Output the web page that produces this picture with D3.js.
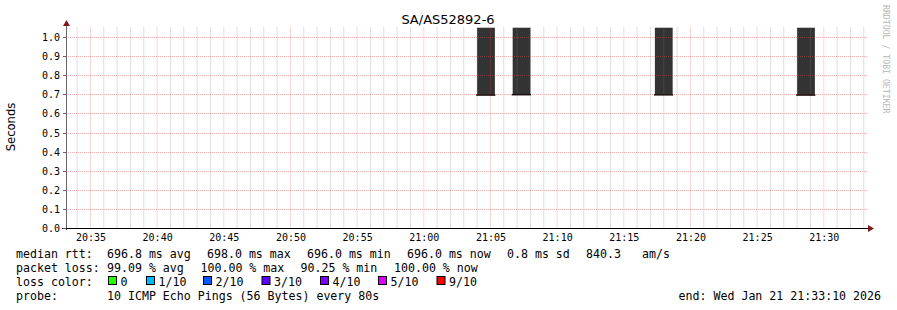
<!DOCTYPE html>
<html>
<head>
<meta charset="utf-8">
<script src="https://cdn.jsdelivr.net/npm/d3@7"></script>
<style>
  html, body { margin: 0; padding: 0; background: #fff; }
  svg { display: block; }
  .mono { font-family: 'DejaVu Sans Mono', monospace; }
  .sans { font-family: 'DejaVu Sans', sans-serif; }
</style>
</head>
<body>
<svg id="chart" width="897" height="310"></svg>
<script>
// samples that came back (every other slot was 10/10 loss)
const STEP = 80
const SAMPLE_TIMES = ['21:04:00', '21:06:40', '21:17:20', '21:28:00']
const MEDIANS = [0.6960, 0.6980, 0.6972, 0.6960]
const SMOKE_TOP = [1.05, 1.05, 1.05, 1.05]

const RANGE_START = '20:33:10'
const RANGE_END = '21:33:10'
const Y_MAX = 1.05

const LOSS_LABELS = ['0', '1/10', '2/10', '3/10', '4/10', '5/10', '9/10']
const LOSS_COLORS = ['#26ff00', '#00b8ff', '#0059ff', '#5e00ff', '#7e00ff', '#dd00ff', '#ff0000']

const RTT_LEGEND = ['median rtt:', '696.8 ms avg', '698.0 ms max', '696.0 ms min', '696.0 ms now', '0.8 ms sd', '840.3', 'am/s']
const LOSS_LEGEND = ['packet loss:', '99.09 % avg', '100.00 % max', '90.25 % min', '100.00 % now']
const PROBE_LEGEND = ['probe:', '10 ICMP Echo Pings (56 Bytes) every 80s']
const END_LABEL = 'end: Wed Jan 21 21:33:10 2026'

const parseTime = d3.timeParse('%Y-%m-%d %H:%M:%S')
const at = s => parseTime('2026-01-21 ' + s)

const svg = d3.select('#chart')
const plot = { left: 66, right: 866, top: 27.45, bottom: 228 }

const x = d3.scaleTime()
  .domain([at(RANGE_START), at(RANGE_END)])
  .range([plot.left, plot.right])
const y = d3.scaleLinear()
  .domain([0, Y_MAX])
  .range([plot.bottom, plot.top])

svg.append('clipPath').attr('id', 'plotclip')
  .append('rect')
  .attr('x', plot.left).attr('y', plot.top)
  .attr('width', plot.right - plot.left + 2).attr('height', plot.bottom - plot.top)

const samples = SAMPLE_TIMES.map((t, i) => ({
  t0: at(t),
  t1: d3.timeSecond.offset(at(t), STEP),
  median: MEDIANS[i],
  top: SMOKE_TOP[i]
}))

// smoke
svg.append('g')
  .attr('clip-path', 'url(#plotclip)')
  .selectAll('rect')
  .data(samples)
  .enter().append('rect')
  .attr('x', d => x(d.t0))
  .attr('y', d => y(d.top))
  .attr('width', d => x(d.t1) - x(d.t0))
  .attr('height', d => y(d.median) - y(d.top))
  .attr('fill', '#333')

// grid (semi transparent, like rrdtool, so it darkens over the smoke)
const grid = svg.append('g').attr('fill', 'none').attr('stroke-width', 1)
const minutes = d3.timeMinute.every(1).range(at(RANGE_START), at(RANGE_END))

grid.selectAll('.minor')
  .data(minutes.filter(m => m.getMinutes() % 5 !== 0))
  .enter().append('line')
  .attr('class', 'minor')
  .attr('x1', d => x(d)).attr('x2', d => x(d))
  .attr('y1', plot.top).attr('y2', plot.bottom)
  .attr('stroke', 'rgba(128,128,128,0.5)')
  .attr('stroke-dasharray', '1,1')

grid.selectAll('.major')
  .data(minutes.filter(m => m.getMinutes() % 5 === 0))
  .enter().append('line')
  .attr('class', 'major')
  .attr('x1', d => x(d)).attr('x2', d => x(d))
  .attr('y1', plot.top).attr('y2', plot.bottom)
  .attr('stroke', 'rgba(232,72,72,0.45)')
  .attr('stroke-dasharray', '1,1')

const yTicks = y.ticks(10)

grid.selectAll('.hmajor')
  .data(yTicks.filter(v => v > 0))
  .enter().append('line')
  .attr('class', 'hmajor')
  .attr('x1', plot.left).attr('x2', plot.right + 2)
  .attr('y1', d => Math.round(y(d)) + 0.5).attr('y2', d => Math.round(y(d)) + 0.5)
  .attr('stroke', 'rgba(232,72,72,0.45)')
  .attr('stroke-dasharray', '1,1')

// median line
svg.append('g')
  .selectAll('line')
  .data(samples)
  .enter().append('line')
  .attr('x1', d => x(d.t0) - 1).attr('x2', d => x(d.t1) + 0.5)
  .attr('y1', d => y(d.median)).attr('y2', d => y(d.median))
  .attr('stroke', '#1a1010')
  .attr('stroke-width', 1.5)

// axes
const axes = svg.append('g')
axes.append('line')
  .attr('x1', plot.left + 0.5).attr('x2', plot.left + 0.5)
  .attr('y1', plot.bottom + 2).attr('y2', 25)
  .attr('stroke', '#666')
axes.append('path')
  .attr('d', `M${plot.left - 3},26 L${plot.left + 4},26 L${plot.left + 0.5},20 Z`)
  .attr('fill', '#7f1a1a')
axes.append('line')
  .attr('x1', plot.left - 4).attr('x2', plot.right + 3)
  .attr('y1', plot.bottom + 0.5).attr('y2', plot.bottom + 0.5)
  .attr('stroke', '#000')
axes.append('path')
  .attr('d', `M${plot.right + 2},${plot.bottom - 3} L${plot.right + 2},${plot.bottom + 4} L${plot.right + 8},${plot.bottom + 0.5} Z`)
  .attr('fill', '#7f1a1a')

axes.selectAll('.ytick')
  .data(yTicks)
  .enter().append('line')
  .attr('x1', plot.left - 3).attr('x2', plot.left)
  .attr('y1', d => Math.round(y(d)) + 0.5).attr('y2', d => Math.round(y(d)) + 0.5)
  .attr('stroke', '#666')

// y labels
svg.append('g')
  .attr('class', 'mono')
  .attr('font-size', 10)
  .attr('text-anchor', 'end')
  .selectAll('text')
  .data(yTicks)
  .enter().append('text')
  .attr('x', 60)
  .attr('y', d => Math.round(y(d)) + 0.5)
  .attr('dy', '0.35em')
  .text(d3.format('.1f'))

// x labels via d3 axis, only the text is kept
const xAxis = svg.append('g')
  .attr('transform', `translate(0,${plot.bottom})`)
  .call(d3.axisBottom(x)
    .ticks(d3.timeMinute.every(5))
    .tickSize(0)
    .tickPadding(0)
    .tickFormat(d3.timeFormat('%H:%M')))
xAxis.select('.domain').remove()
xAxis.selectAll('text')
  .attr('class', 'mono')
  .attr('font-size', 10)
  .attr('fill', '#000')
  .attr('dy', null)
  .attr('y', 13)

// titles
svg.append('text')
  .attr('class', 'sans')
  .attr('x', 448).attr('y', 24)
  .attr('text-anchor', 'middle')
  .attr('font-size', 13)
  .text('SA/AS52892-6')

svg.append('text')
  .attr('class', 'sans')
  .attr('transform', 'translate(15,127) rotate(-90)')
  .attr('text-anchor', 'middle')
  .attr('font-size', 11.6)
  .text('Seconds')

svg.append('text')
  .attr('class', 'mono')
  .attr('transform', 'translate(883,5) rotate(90)')
  .attr('font-size', 8.2)
  .attr('fill', '#b8b8b8')
  .text('RRDTOOL / TOBI OETIKER')

// legend
const legend = svg.append('g').attr('class', 'mono').attr('font-size', 11.6)
const rows = [
  { y: 258, items: RTT_LEGEND, xs: [16, 107, 207, 307, 407, 507, 586, 642] },
  { y: 272, items: LOSS_LEGEND, xs: [16, 107, 200.5, 300.5, 394] },
  { y: 300, items: PROBE_LEGEND, xs: [16, 107] }
]
rows.forEach(row => {
  legend.selectAll(null)
    .data(row.items)
    .enter().append('text')
    .attr('x', (d, i) => row.xs[i])
    .attr('y', row.y)
    .text(d => d)
})

legend.append('text').attr('x', 16).attr('y', 286).text('loss color:')
const swatchX = [108, 146, 203, 261.5, 320, 378, 436.5]
const swatch = legend.selectAll('.swatch')
  .data(LOSS_LABELS)
  .enter().append('g')
  .attr('class', 'swatch')
  .attr('transform', (d, i) => `translate(${swatchX[i]},0)`)
swatch.append('rect')
  .attr('x', 0.5).attr('y', 276.5)
  .attr('width', 8).attr('height', 8)
  .attr('fill', (d, i) => LOSS_COLORS[i])
  .attr('stroke', '#000')
swatch.append('text')
  .attr('x', 12.5).attr('y', 286)
  .text(d => d)

legend.append('text')
  .attr('x', 881).attr('y', 300)
  .attr('text-anchor', 'end')
  .text(END_LABEL)
</script>
</body>
</html>
